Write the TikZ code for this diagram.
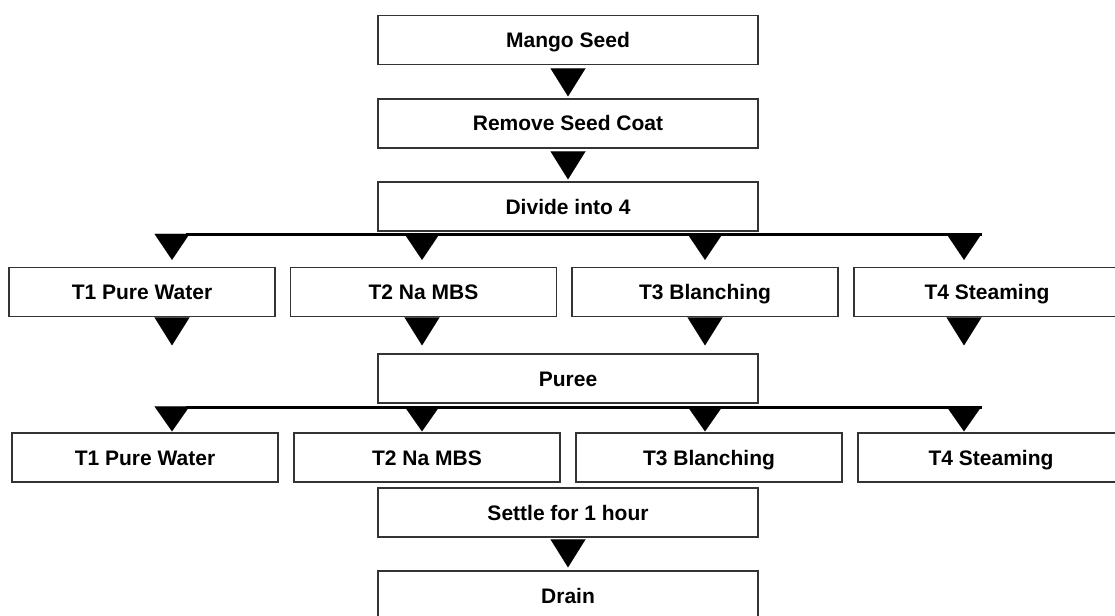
\documentclass[tikz,border=0pt]{standalone}
\usepackage{fontspec}
\setmainfont{Liberation Sans}
\usetikzlibrary{arrows.meta}
\begin{document}
\begin{tikzpicture}[x=1pt,y=-1pt,
  box/.style={draw=black!80, line width=1.3pt, fill=white, rectangle, inner sep=0pt,
    minimum height=49pt, text height=15pt, text depth=0pt,
    font=\fontsize{21}{25}\selectfont\bfseries},
  mainbox/.style={box, minimum width=380pt},
  tbox/.style={box, minimum width=266pt},
  tri/.style={draw=black, line width=0.01pt, -{Triangle[width=35pt,length=#1]}},
  tri/.default=28pt,
  bus/.style={draw=black, line width=3pt}]
\useasboundingbox (0,0) rectangle (1115,615);
\clip (0,0) rectangle (1115,615);

% main column
\node[mainbox] (mango)  at (568,40)    {Mango Seed};
\node[mainbox] (remove) at (568,123.5) {Remove Seed Coat};
\node[mainbox] (divide) at (568,206.5) {Divide into 4};
\node[mainbox] (puree)  at (568,378.5) {Puree};
\node[mainbox] (settle) at (568,512.5) {Settle for 1 hour};
\node[mainbox] (drain)  at (568,595.5) {Drain};

% first treatment row
\node[tbox] (a1) at (142,292)   {T1 Pure Water};
\node[tbox] (a2) at (423.5,292) {T2 Na MBS};
\node[tbox] (a3) at (705,292)   {T3 Blanching};
\node[tbox] (a4) at (987,292)   {T4 Steaming};

% second treatment row
\node[tbox] (b1) at (145,457.5) {T1 Pure Water};
\node[tbox] (b2) at (427,457.5) {T2 Na MBS};
\node[tbox] (b3) at (709,457.5) {T3 Blanching};
\node[tbox] (b4) at (991,457.5) {T4 Steaming};

% branch points
\coordinate (d1) at (172,234);
\coordinate (d2) at (422,234);
\coordinate (d3) at (705,234);
\coordinate (d4) at (964,234);
\coordinate (dl) at (186,234);
\coordinate (dr) at (982,234);
\coordinate (p1) at (172,407);
\coordinate (p2) at (422,407);
\coordinate (p3) at (705,407);
\coordinate (p4) at (964,407);
\coordinate (pl) at (186,407.5);
\coordinate (pr) at (982,407.5);

% main arrows
\draw[tri, shorten <=4pt, shorten >=2pt] (mango) -- (remove);
\draw[tri, shorten <=3pt, shorten >=2pt] (remove) -- (divide);
\draw[tri, shorten <=3pt, shorten >=3pt] (settle) -- (drain);

% first split
\draw[bus] (dl) -- (dr);
\foreach \i in {1,2,3,4}{
  \draw[tri=26pt, shorten >=7pt] (d\i) -- (d\i |- a\i.north);
  \draw[tri, shorten <=1pt, shorten >=8pt] (a\i.south -| d\i) -- (d\i |- puree.north);
}

% second split
\draw[bus] (pl) -- (pr);
\foreach \i in {1,2,3,4}{
  \draw[tri=25pt, shorten >=1pt] (p\i) -- (p\i |- b\i.north);
}
\end{tikzpicture}
\end{document}
